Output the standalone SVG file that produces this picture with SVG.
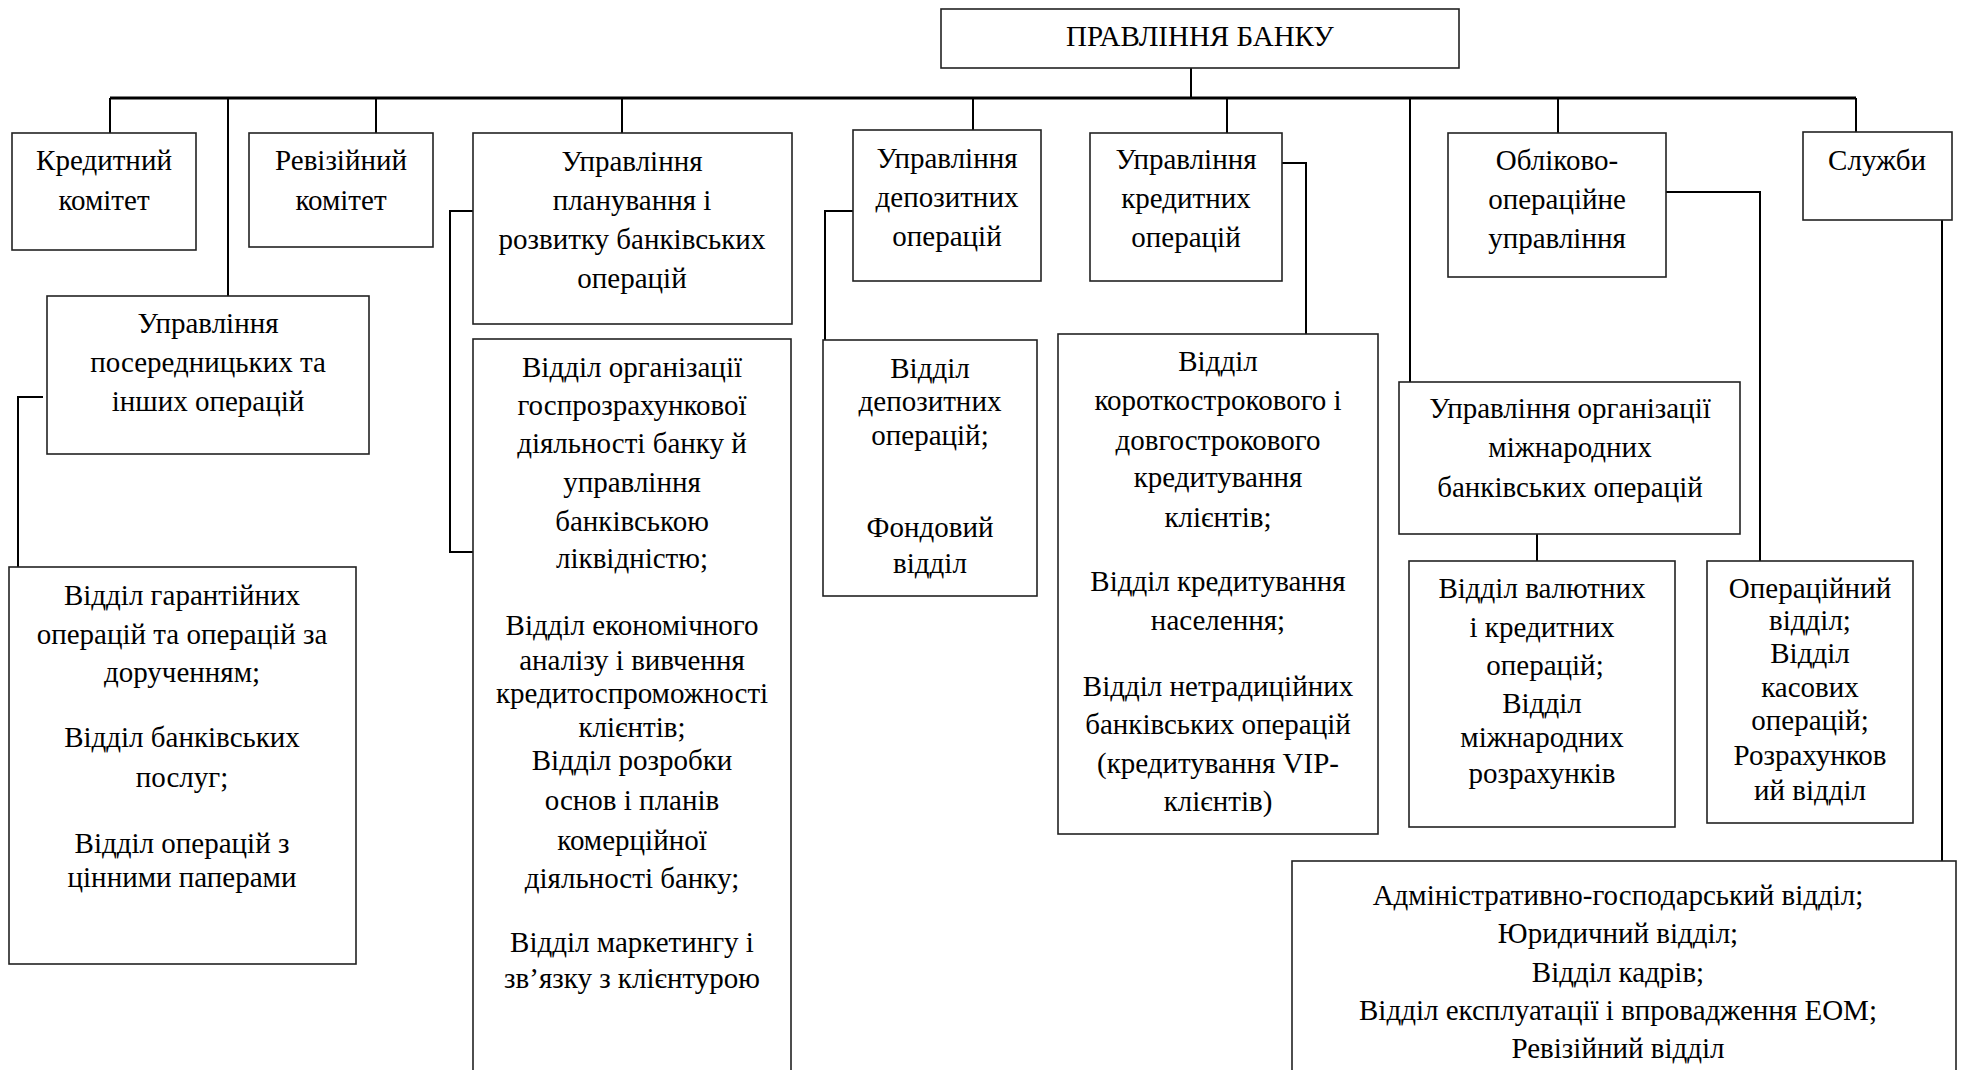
<svg xmlns="http://www.w3.org/2000/svg" width="1963" height="1070" viewBox="0 0 1963 1070">
<style>
.box{fill:#fff;stroke:#222;stroke-width:1.6}
.t{font-family:"Liberation Serif","Times New Roman",serif;font-size:29px;fill:#000;text-anchor:middle}
.c{fill:none;stroke:#000;stroke-width:2}
.bus{fill:none;stroke:#000;stroke-width:3}
</style>
<rect width="1963" height="1070" fill="#fff"/>
<g id="connectors">
<path class="c" d="M1191,68 V98"/>
<path class="bus" d="M110,98 H1856"/>
<path class="c" d="M110,98 V133 M228,98 V296 M376,98 V133 M622,98 V133 M973,98 V130 M1227,98 V133 M1410,98 V382 M1558,98 V133 M1856,98 V132"/>
<path class="c" d="M43,397 H18 V567"/>
<path class="c" d="M473,211 H450 V552 H473"/>
<path class="c" d="M853,211 H825 V340"/>
<path class="c" d="M1282,163 H1306 V334"/>
<path class="c" d="M1666,192 H1760 V561"/>
<path class="c" d="M1537,534 V561"/>
<path class="c" d="M1942,220 V861"/>
</g>
<g id="n-board"><rect class="box" x="941" y="9" width="518" height="59"/><text class="t" x="1200" y="46">ПРАВЛІННЯ БАНКУ</text></g>
<g id="n-credit-committee"><rect class="box" x="12" y="133" width="184" height="117"/><text class="t" x="104" y="170">Кредитний</text><text class="t" x="104" y="210">комітет</text></g>
<g id="n-audit-committee"><rect class="box" x="249" y="133" width="184" height="114"/><text class="t" x="341" y="170">Ревізійний</text><text class="t" x="341" y="210">комітет</text></g>
<g id="n-intermediary"><rect class="box" x="47" y="296" width="322" height="158"/><text class="t" x="208" y="333">Управління</text><text class="t" x="208" y="372">посередницьких та</text><text class="t" x="208" y="411">інших операцій</text></g>
<g id="n-guarantee"><rect class="box" x="9" y="567" width="347" height="397"/><text class="t" x="182" y="605">Відділ гарантійних</text><text class="t" x="182" y="644">операцій та операцій за</text><text class="t" x="182" y="682">дорученням;</text><text class="t" x="182" y="747">Відділ банківських</text><text class="t" x="182" y="787">послуг;</text><text class="t" x="182" y="853">Відділ операцій з</text><text class="t" x="182" y="887">цінними паперами</text></g>
<g id="n-planning"><rect class="box" x="473" y="133" width="319" height="191"/><text class="t" x="632" y="171">Управління</text><text class="t" x="632" y="210">планування і</text><text class="t" x="632" y="249">розвитку банківських</text><text class="t" x="632" y="288">операцій</text></g>
<g id="n-planning-depts"><rect class="box" x="473" y="339" width="318" height="741"/><text class="t" x="632" y="377">Відділ організації</text><text class="t" x="632" y="415">госпрозрахункової</text><text class="t" x="632" y="453">діяльності банку й</text><text class="t" x="632" y="492">управління</text><text class="t" x="632" y="531">банківською</text><text class="t" x="632" y="568">ліквідністю;</text><text class="t" x="632" y="635">Відділ економічного</text><text class="t" x="632" y="670">аналізу і вивчення</text><text class="t" x="632" y="703">кредитоспроможності</text><text class="t" x="632" y="737">клієнтів;</text><text class="t" x="632" y="770">Відділ розробки</text><text class="t" x="632" y="810">основ і планів</text><text class="t" x="632" y="850">комерційної</text><text class="t" x="632" y="888">діяльності банку;</text><text class="t" x="632" y="952">Відділ маркетингу і</text><text class="t" x="632" y="988">зв’язку з клієнтурою</text></g>
<g id="n-deposit"><rect class="box" x="853" y="130" width="188" height="151"/><text class="t" x="947" y="168">Управління</text><text class="t" x="947" y="207">депозитних</text><text class="t" x="947" y="246">операцій</text></g>
<g id="n-deposit-depts"><rect class="box" x="823" y="340" width="214" height="256"/><text class="t" x="930" y="378">Відділ</text><text class="t" x="930" y="411">депозитних</text><text class="t" x="930" y="445">операцій;</text><text class="t" x="930" y="537">Фондовий</text><text class="t" x="930" y="573">відділ</text></g>
<g id="n-credit"><rect class="box" x="1090" y="133" width="192" height="148"/><text class="t" x="1186" y="169">Управління</text><text class="t" x="1186" y="208">кредитних</text><text class="t" x="1186" y="247">операцій</text></g>
<g id="n-credit-depts"><rect class="box" x="1058" y="334" width="320" height="500"/><text class="t" x="1218" y="371">Відділ</text><text class="t" x="1218" y="410">короткострокового і</text><text class="t" x="1218" y="450">довгострокового</text><text class="t" x="1218" y="487">кредитування</text><text class="t" x="1218" y="527">клієнтів;</text><text class="t" x="1218" y="591">Відділ кредитування</text><text class="t" x="1218" y="630">населення;</text><text class="t" x="1218" y="696">Відділ нетрадиційних</text><text class="t" x="1218" y="734">банківських операцій</text><text class="t" x="1218" y="773">(кредитування VIP-</text><text class="t" x="1218" y="811">клієнтів)</text></g>
<g id="n-international"><rect class="box" x="1399" y="382" width="341" height="152"/><text class="t" x="1570" y="418">Управління організації</text><text class="t" x="1570" y="457">міжнародних</text><text class="t" x="1570" y="497">банківських операцій</text></g>
<g id="n-currency"><rect class="box" x="1409" y="561" width="266" height="266"/><text class="t" x="1542" y="598">Відділ валютних</text><text class="t" x="1542" y="637">і кредитних</text><text class="t" x="1545" y="675">операцій;</text><text class="t" x="1542" y="713">Відділ</text><text class="t" x="1542" y="747">міжнародних</text><text class="t" x="1542" y="783">розрахунків</text></g>
<g id="n-accounting"><rect class="box" x="1448" y="133" width="218" height="144"/><text class="t" x="1557" y="170">Обліково-</text><text class="t" x="1557" y="209">операційне</text><text class="t" x="1557" y="248">управління</text></g>
<g id="n-operations"><rect class="box" x="1707" y="561" width="206" height="262"/><text class="t" x="1810" y="598">Операційний</text><text class="t" x="1810" y="630">відділ;</text><text class="t" x="1810" y="663">Відділ</text><text class="t" x="1810" y="697">касових</text><text class="t" x="1810" y="730">операцій;</text><text class="t" x="1810" y="765">Розрахунков</text><text class="t" x="1810" y="800">ий відділ</text></g>
<g id="n-services"><rect class="box" x="1803" y="132" width="149" height="88"/><text class="t" x="1877" y="170">Служби</text></g>
<g id="n-services-depts"><rect class="box" x="1292" y="861" width="664" height="219"/><text class="t" x="1618" y="905">Адміністративно-господарський відділ;</text><text class="t" x="1618" y="943">Юридичний відділ;</text><text class="t" x="1618" y="982">Відділ кадрів;</text><text class="t" x="1618" y="1020">Відділ експлуатації і впровадження ЕОМ;</text><text class="t" x="1618" y="1058">Ревізійний відділ</text></g>
</svg>
